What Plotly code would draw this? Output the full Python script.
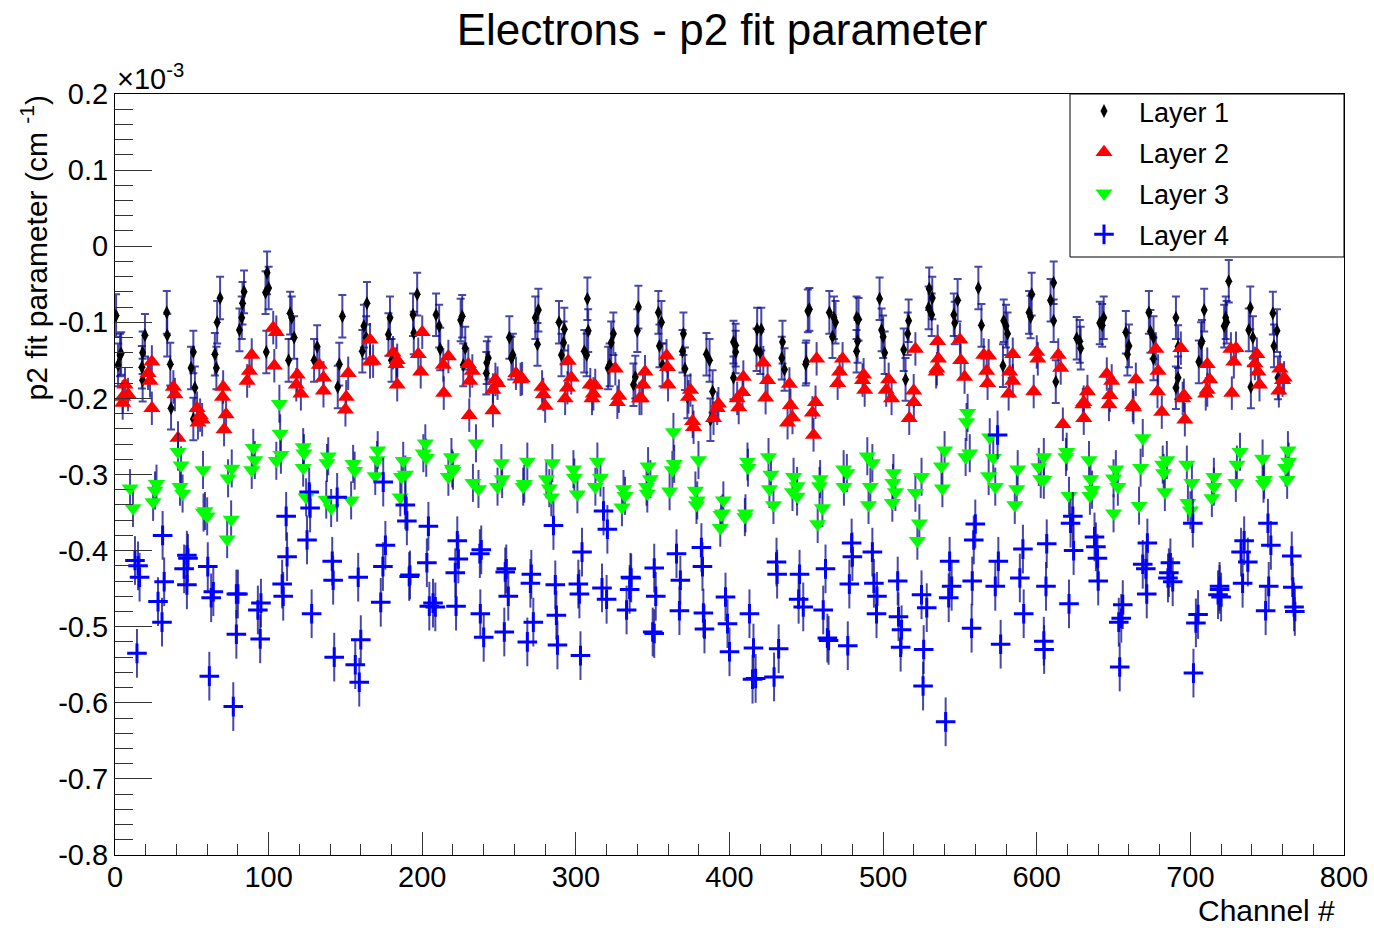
import plotly.graph_objects as go

# ---------------- data (values in units of 1e-3 cm^-1) ----------------
layer1_x = [0.7, 2, 3.3, 4, 17.5, 18, 18, 19.5, 33.7, 34, 36, 36.5, 49.5, 51, 51, 52, 65, 66, 66.5, 68.4,
            81, 82.5, 83, 84, 98, 98.5, 99, 100, 113, 114, 115, 116.6, 129.6, 131.6, 145, 146, 148,
            161, 162, 163.5, 164, 178, 179, 180, 194, 194.5, 196.7, 209, 211, 211.7, 225, 226, 226.7, 228,
            241.7, 242, 243, 256.7, 258, 259, 273.6, 275, 275.6, 289, 290.6, 292, 292.5, 305.5, 307, 307.5, 308,
            321, 322, 323, 324.4, 337.5, 338.7, 340, 340.7, 353.7, 354.4, 355.7, 356.4, 369.4, 370, 371, 372.6,
            385, 387, 387.6, 389, 402.6, 402.6, 404, 404, 417.6, 418, 420, 420.7, 434, 434.5, 435.8,
            449.6, 450, 451, 452, 465, 467, 468, 469, 482.7, 482.7, 483.4, 484, 497.7, 499, 500, 501,
            513.4, 514.6, 516, 516.6, 529.6, 530, 531.6, 532, 546, 546.6, 548.5, 562, 564, 578, 578.5, 580, 581,
            595, 596, 596.7, 609, 611, 611, 612.4, 626, 628, 628.6, 641, 642.6, 643.6, 658, 659, 660,
            673, 674, 676, 676, 690.6, 690.6, 692, 692, 705.5, 707, 707.5, 709, 722, 723, 723.6, 725,
            738, 739, 739.4, 740.7, 753.7, 754.4, 756.4, 757]
layer1_y = [-0.091, -0.156, -0.143, -0.141, -0.159, -0.14, -0.176, -0.117, -0.087, -0.117, -0.155, -0.213,
            -0.16, -0.139, -0.227, -0.186, -0.142, -0.16, -0.1, -0.068, -0.11, -0.094, -0.075, -0.06,
            -0.061, -0.139, -0.035, -0.055, -0.15, -0.088, -0.094, -0.12, -0.15, -0.132, -0.185, -0.155, -0.092,
            -0.138, -0.105, -0.12, -0.075, -0.116, -0.094, -0.15, -0.09, -0.114, -0.063, -0.09, -0.105, -0.135,
            -0.097, -0.092, -0.156, -0.134, -0.167, -0.153, -0.147, -0.12, -0.147, -0.143, -0.094, -0.129, -0.084,
            -0.1, -0.143, -0.127, -0.109, -0.138, -0.143, -0.069, -0.111, -0.16, -0.156, -0.127, -0.115,
            -0.182, -0.172, -0.111, -0.08, -0.087, -0.131, -0.1, -0.156, -0.138, -0.115, -0.161, -0.198,
            -0.142, -0.15, -0.228, -0.191, -0.126, -0.173, -0.139, -0.13, -0.136, -0.109, -0.14, -0.109,
            -0.147, -0.126, -0.162, -0.155, -0.152, -0.085, -0.083, -0.087, -0.119, -0.094, -0.1,
            -0.094, -0.138, -0.125, -0.096, -0.069, -0.11, -0.119, -0.14, -0.136, -0.175, -0.115, -0.098,
            -0.081, -0.056, -0.09, -0.068, -0.09, -0.101, -0.071, -0.055, -0.104, -0.157, -0.098, -0.105, -0.115,
            -0.087, -0.093, -0.063, -0.071, -0.048, -0.098, -0.178, -0.121, -0.125, -0.134, -0.101, -0.104, -0.094,
            -0.113, -0.142, -0.131, -0.087, -0.112, -0.12, -0.148, -0.094, -0.186, -0.132, -0.173,
            -0.152, -0.128, -0.125, -0.084, -0.105, -0.094, -0.1, -0.046, -0.11, -0.081, -0.185, -0.12,
            -0.088, -0.131, -0.111, -0.173]

layer2_x = [5, 5, 6.5, 8.5, 21.5, 22.8, 24, 24, 38, 39, 41, 53.4, 54, 55.4, 56.7, 70, 70.4, 71, 72.3,
            86, 87.5, 89, 103, 103.7, 105, 118, 118.6, 121, 133, 135.7, 135.7, 150, 150.5, 151.8,
            166, 166, 168, 181, 183, 183.7, 183.7, 197.4, 199, 200, 213.7, 214, 217, 230, 230.6, 231, 232.6,
            246, 246, 247.6, 249, 261, 264, 265, 278, 278.8, 280, 293, 294.5, 295, 297, 309.4, 310.5, 311.4, 312.6,
            325.7, 327, 328, 341.4, 342.7, 343.7, 345, 359, 359.6, 360, 373.3, 374.6, 376, 376.6,
            389.6, 392, 392.8, 405, 406, 408.5, 409, 422, 423.5, 424.8, 437.8, 439, 439.7, 441,
            454, 454.7, 456, 456.7, 470.4, 471.7, 473.6, 486.6, 487.3, 488, 502, 503.6, 505.5,
            517, 519.9, 520, 521, 534.5, 535, 535.5, 536, 550, 550.5, 553, 565.5, 567.4, 568, 568.7,
            581.7, 582.4, 584.4, 584.4, 598, 600, 600.7, 614, 615.6, 617, 630, 630.6, 630.6, 633,
            645.6, 647, 647.6, 648.8, 662.5, 663, 664.5, 677.5, 678.6, 679, 681.4, 693.8, 695, 695.8, 696.4,
            710, 711, 711, 712.6, 726.4, 727, 728.3, 729.7, 742, 743.3, 744, 745, 757.6, 758.3, 760, 761]
layer2_y = [-0.198, -0.206, -0.182, -0.195, -0.167, -0.177, -0.152, -0.213, -0.185, -0.195, -0.252,
            -0.213, -0.232, -0.222, -0.228, -0.198, -0.185, -0.241, -0.221, -0.177, -0.164, -0.143,
            -0.107, -0.157, -0.113, -0.182, -0.169, -0.194, -0.156, -0.173, -0.19, -0.215, -0.198, -0.167,
            -0.123, -0.152, -0.151, -0.14, -0.155, -0.15, -0.182, -0.142, -0.165, -0.113, -0.156, -0.193, -0.145,
            -0.155, -0.222, -0.177, -0.164, -0.189, -0.216, -0.175, -0.18, -0.167, -0.175, -0.174,
            -0.185, -0.195, -0.21, -0.2, -0.186, -0.151, -0.173, -0.182, -0.2, -0.194, -0.183,
            -0.161, -0.205, -0.197, -0.2, -0.2, -0.182, -0.165, -0.144, -0.159, -0.182, -0.198, -0.189, -0.23, -0.238,
            -0.226, -0.213, -0.207, -0.2, -0.212, -0.192, -0.172, -0.153, -0.199, -0.176, -0.232, -0.181, -0.209, -0.225,
            -0.219, -0.248, -0.205, -0.148, -0.18, -0.165, -0.148, -0.176, -0.169, -0.189, -0.189, -0.175, -0.2,
            -0.226, -0.19, -0.205, -0.135, -0.165, -0.161, -0.125, -0.148, -0.123, -0.15, -0.172,
            -0.143, -0.164, -0.18, -0.144, -0.194, -0.165, -0.142, -0.177, -0.191, -0.139, -0.148,
            -0.143, -0.16, -0.234, -0.208, -0.205, -0.226, -0.191, -0.168, -0.208, -0.196, -0.177,
            -0.209, -0.212, -0.175, -0.135, -0.191, -0.164, -0.218, -0.134, -0.2, -0.196, -0.228,
            -0.194, -0.155, -0.189, -0.175, -0.135, -0.193, -0.152, -0.134, -0.154, -0.142, -0.165, -0.182,
            -0.19, -0.161, -0.176, -0.173]

layer3_x = [9.8, 11.7, 24.8, 26, 27, 41, 42.3, 43, 44, 57.3, 57.6, 58.6, 60, 73, 73.6, 75.6, 76, 89, 90, 91,
            105, 107, 107.5, 108, 122.5, 122.5, 123, 124.4, 137.5, 138, 138.8, 140.7, 153.7, 155, 156,
            169.4, 170.6, 171, 185.7, 186.5, 187.6, 189, 200.7, 202, 202.6, 217, 219, 219.5, 220,
            233, 235, 236.6, 249, 251.5, 252, 265.7, 266.4, 268.4, 280.8, 282.7, 284, 284.7, 298.4, 299, 301,
            312.7, 314, 316, 330, 331, 332, 346, 346.5, 347, 348.5, 361, 362.8, 363.5, 364,
            377.8, 378.5, 379, 379.8, 394, 394.5, 395.5, 396, 410, 410.4, 411.7, 412, 425.4, 426, 427, 428.6,
            441, 441.7, 444, 444, 457.4, 458.6, 459, 460.5, 474.3, 474.5, 476.4, 489.7, 490.5, 491.7, 493,
            506, 506.4, 506.7, 508, 521, 522.3, 523.6, 525, 538, 538.6, 540, 553.7, 554.3, 555, 556.4,
            568.7, 569.4, 571.7, 573, 585.7, 587, 587.6, 601.3, 602.6, 604.6, 604.6, 619, 619.5, 621,
            634, 634.6, 635, 636, 650, 650, 651.5, 652.8, 666.6, 667.6, 669, 682, 682.6, 683.4, 684.7,
            697.7, 698.4, 700, 701, 714, 715.3, 715.3, 729.6, 730.3, 732.3, 747, 747.6, 748, 762, 763, 763.5, 764]
layer3_y = [-0.318, -0.344, -0.336, -0.321, -0.312, -0.27, -0.316, -0.288, -0.325, -0.294, -0.35, -0.348, -0.355,
            -0.385, -0.305, -0.359, -0.292, -0.294, -0.265, -0.281, -0.282, -0.207, -0.246, -0.274,
            -0.264, -0.291, -0.272, -0.33, -0.333, -0.285, -0.276, -0.344, -0.334, -0.286, -0.295,
            -0.302, -0.281, -0.268, -0.33, -0.303, -0.282, -0.3, -0.272, -0.259, -0.278, -0.303, -0.277, -0.292, -0.295,
            -0.311, -0.259, -0.319, -0.316, -0.285, -0.306, -0.316, -0.312, -0.283, -0.306, -0.318, -0.33, -0.285,
            -0.293, -0.304, -0.326, -0.316, -0.283, -0.304, -0.343, -0.319, -0.328, -0.316, -0.325, -0.289, -0.306,
            -0.322, -0.294, -0.244, -0.286, -0.321, -0.34, -0.334, -0.281, -0.37, -0.353, -0.351, -0.334,
            -0.356, -0.351, -0.283, -0.291, -0.277, -0.319, -0.3, -0.34, -0.323, -0.303, -0.315, -0.329,
            -0.365, -0.315, -0.306, -0.344, -0.293, -0.316, -0.298, -0.276, -0.34, -0.316, -0.285,
            -0.337, -0.311, -0.298, -0.323, -0.324, -0.387, -0.364, -0.303, -0.289, -0.318, -0.268,
            -0.277, -0.231, -0.219, -0.272, -0.302, -0.251, -0.278, -0.316, -0.34, -0.319, -0.293,
            -0.29, -0.306, -0.277, -0.307, -0.277, -0.27, -0.328, -0.281, -0.328, -0.306, -0.32,
            -0.305, -0.351, -0.293, -0.316, -0.341, -0.291, -0.252, -0.287, -0.298, -0.323, -0.281,
            -0.287, -0.337, -0.347, -0.311, -0.331, -0.303, -0.316, -0.311, -0.287, -0.27, -0.279, -0.312, -0.307,
            -0.291, -0.307, -0.268, -0.283]

layer4_x = [13, 14.3, 15, 16, 28, 30.6, 31, 32, 45, 46.8, 46.8, 47.5, 60.4, 61.4, 62.6, 64, 77, 79, 79, 80,
            93, 94.5, 95, 108.8, 109.5, 111.4, 112, 125, 126.4, 127, 128, 141.4, 142, 142.7, 144.6,
            156.4, 158.3, 159, 160, 173, 174.4, 174.6, 176, 189, 190, 191.5, 192, 203, 204, 204.6, 207, 208.5,
            221.5, 222, 222.8, 223.5, 237.5, 237.8, 238.4, 240, 253.4, 254, 254.7, 256, 268.4, 270.4, 271, 272.3,
            285.4, 286.6, 287.3, 288, 301.6, 302.3, 303, 304, 317, 318, 320, 320.5, 333, 335, 335.5, 336,
            350, 351, 351, 352, 365.5, 367.4, 368, 381.7, 382.4, 383, 383.7, 397.4, 398.7, 400,
            413, 415, 415.6, 417, 429, 430.6, 431, 432, 445, 445.6, 448, 461, 462.5, 463.7, 464.5,
            477, 478, 479.5, 480, 493, 494, 495.7, 496, 509.5, 510, 511.4, 512, 525, 526, 526.4, 528.4,
            540.7, 542.7, 543.3, 544.6, 557.6, 558, 559, 560, 573, 574.5, 575, 576.5, 589, 591, 591.5,
            604.6, 604.8, 606, 606.5, 621, 622, 623.5, 624, 637.6, 638.5, 639.5, 640, 653.4, 655, 654, 656,
            669, 671, 671.6, 672, 685.4, 686, 687, 688.5, 701.6, 702, 703.6, 705, 718, 719, 719, 720,
            733, 734, 735, 737.4, 749, 750.5, 751, 752.4, 766, 766.7, 767.5, 768]
layer4_y = [-0.413, -0.535, -0.42, -0.435, -0.467, -0.494, -0.38, -0.441, -0.424, -0.406, -0.445, -0.41,
            -0.421, -0.565, -0.462, -0.454, -0.605, -0.457, -0.51, -0.457, -0.478, -0.516, -0.469,
            -0.444, -0.46, -0.355, -0.408, -0.386, -0.323, -0.344, -0.483, -0.414, -0.439, -0.54, -0.33,
            -0.55, -0.435, -0.573, -0.517, -0.468, -0.421, -0.31, -0.393, -0.34, -0.361, -0.434, -0.432,
            -0.416, -0.368, -0.473, -0.469, -0.474, -0.429, -0.473, -0.387, -0.411, -0.404, -0.483, -0.399, -0.514,
            -0.507, -0.428, -0.424, -0.46, -0.52, -0.443, -0.431, -0.494, -0.367, -0.445, -0.485, -0.524,
            -0.444, -0.457, -0.538, -0.402, -0.449, -0.348, -0.464, -0.372, -0.478, -0.451, -0.435, -0.436,
            -0.507, -0.423, -0.509, -0.46, -0.404, -0.479, -0.439, -0.396, -0.421, -0.482, -0.503,
            -0.461, -0.496, -0.533, -0.483, -0.569, -0.528, -0.568, -0.566, -0.415, -0.431, -0.529,
            -0.464, -0.431, -0.474, -0.478, -0.424, -0.515, -0.518, -0.525, -0.444, -0.39, -0.408,
            -0.402, -0.443, -0.483, -0.46, -0.44, -0.487, -0.527, -0.504, -0.458, -0.578, -0.53, -0.475,
            -0.625, -0.462, -0.414, -0.447, -0.502, -0.44, -0.386, -0.365, -0.447, -0.248, -0.414, -0.523,
            -0.436, -0.398, -0.483, -0.519, -0.53, -0.447, -0.391, -0.47, -0.364, -0.355, -0.4,
            -0.382, -0.395, -0.41, -0.44, -0.494, -0.489, -0.553, -0.471, -0.418, -0.424, -0.457, -0.39,
            -0.436, -0.429, -0.416, -0.441, -0.364, -0.561, -0.495, -0.484, -0.458, -0.447, -0.451, -0.461,
            -0.402, -0.443, -0.387, -0.415, -0.479, -0.364, -0.447, -0.393, -0.407, -0.448, -0.474, -0.48]

layer_names = ["Layer 1", "Layer 2", "Layer 3", "Layer 4"]
layer_errors = [0.028, 0.022, 0.025, 0.032]

y_tickvals = [0.2, 0.1, 0, -0.1, -0.2, -0.3, -0.4, -0.5, -0.6, -0.7, -0.8]
y_ticktext = ["0.2", "0.1", "0", "-0.1", "-0.2", "-0.3", "-0.4", "-0.5", "-0.6", "-0.7", "-0.8"]
x_tickvals = [0, 100, 200, 300, 400, 500, 600, 700, 800]
x_ticktext = ["0", "100", "200", "300", "400", "500", "600", "700", "800"]

# ---------------- figure ----------------
FONT = "Liberation Sans, Arial, Helvetica, sans-serif"
ERR_COLOR = "rgba(10,10,140,0.75)"
NB = "\u00a0\u00a0"  # small gap between legend symbol and its text

styles = [
    dict(symbol="diamond-tall", size=10, color="black", line=dict(width=0)),
    dict(symbol="triangle-up", size=15, color="#ff0000", line=dict(width=0)),
    dict(symbol="triangle-down", size=15, color="#00ff00", line=dict(width=0)),
    dict(symbol="cross-thin", size=14, color="#0000ff", line=dict(width=3, color="#0000ff")),
]
cap_widths = [4, 0, 0, 0]

xs = [layer1_x, layer2_x, layer3_x, layer4_x]
ys = [layer1_y, layer2_y, layer3_y, layer4_y]

fig = go.Figure()
for i in range(4):
    fig.add_trace(go.Scatter(
        x=xs[i], y=ys[i], mode="markers", name=NB + layer_names[i],
        legendgroup=layer_names[i],
        marker=styles[i],
        error_y=dict(type="constant", value=layer_errors[i], color=ERR_COLOR,
                     thickness=2, width=cap_widths[i]),
    ))

axis_common = dict(
    showline=True, linecolor="black", linewidth=1, mirror=True,
    ticks="inside", tickcolor="#333333", tickwidth=1,
    showgrid=False, zeroline=False, automargin=False,
    tickfont=dict(family=FONT, size=29, color="black"),
)

fig.update_xaxes(range=[0, 800], tickvals=x_tickvals, ticktext=x_ticktext, ticklen=23,
                 ticklabelstandoff=-4,
                 minor=dict(dtick=20, ticklen=11, ticks="inside", tickcolor="#333333", showgrid=False),
                 **axis_common)
fig.update_yaxes(range=[-0.8, 0.2], tickvals=y_tickvals, ticktext=y_ticktext, ticklen=37,
                 minor=dict(dtick=0.02, tick0=0, ticklen=18, ticks="inside", tickcolor="#333333", showgrid=False),
                 **axis_common)

L, R, T, B = 115, 30, 94, 73
PW, PH = 1374 - L - R, 928 - T - B

def px_x(p):
    return (p - L) / PW

def px_y(p):
    return (928 - B - p) / PH

fig.update_layout(
    width=1374, height=928, autosize=False,
    margin=dict(l=L, r=R, t=T, b=B, autoexpand=False),
    paper_bgcolor="white", plot_bgcolor="white",
    font=dict(family=FONT, color="black"),
    title=dict(text="Electrons - p2 fit parameter", font=dict(family=FONT, size=44, color="black"),
               x=722 / 1374, xref="container", xanchor="center",
               y=1 - 30 / 928, yref="container", yanchor="middle"),
    showlegend=True,
    legend=dict(x=px_x(1084), xanchor="left", y=px_y(87), yanchor="top",
                bgcolor="rgba(0,0,0,0)", borderwidth=0,
                font=dict(family=FONT, size=27, color="black"),
                tracegroupgap=3, itemsizing="trace"),
    shapes=[dict(type="rect", xref="paper", yref="paper",
                 x0=px_x(1070), x1=1, y0=px_y(257), y1=1,
                 line=dict(color="black", width=1), fillcolor="white", layer="above")],
    annotations=[
        dict(text="p2 fit parameter (cm <sup>-1</sup>)", textangle=-90,
             xref="paper", yref="paper", x=px_x(34), y=px_y(94), xanchor="center", yanchor="top",
             showarrow=False, font=dict(family=FONT, size=30, color="black")),
        dict(text="×10<sup>-3</sup>", xref="paper", yref="paper", x=0, y=px_y(77),
             xanchor="left", yanchor="middle", showarrow=False,
             font=dict(family=FONT, size=29, color="black")),
        dict(text="Channel #", xref="paper", yref="paper", x=px_x(1337), y=px_y(910),
             xanchor="right", yanchor="middle", showarrow=False,
             font=dict(family=FONT, size=30, color="black")),
    ],
)

fig.write_html("out.html", config={"displayModeBar": False},
               post_script="document.body.style.margin='0px';document.body.style.overflow='hidden';")
